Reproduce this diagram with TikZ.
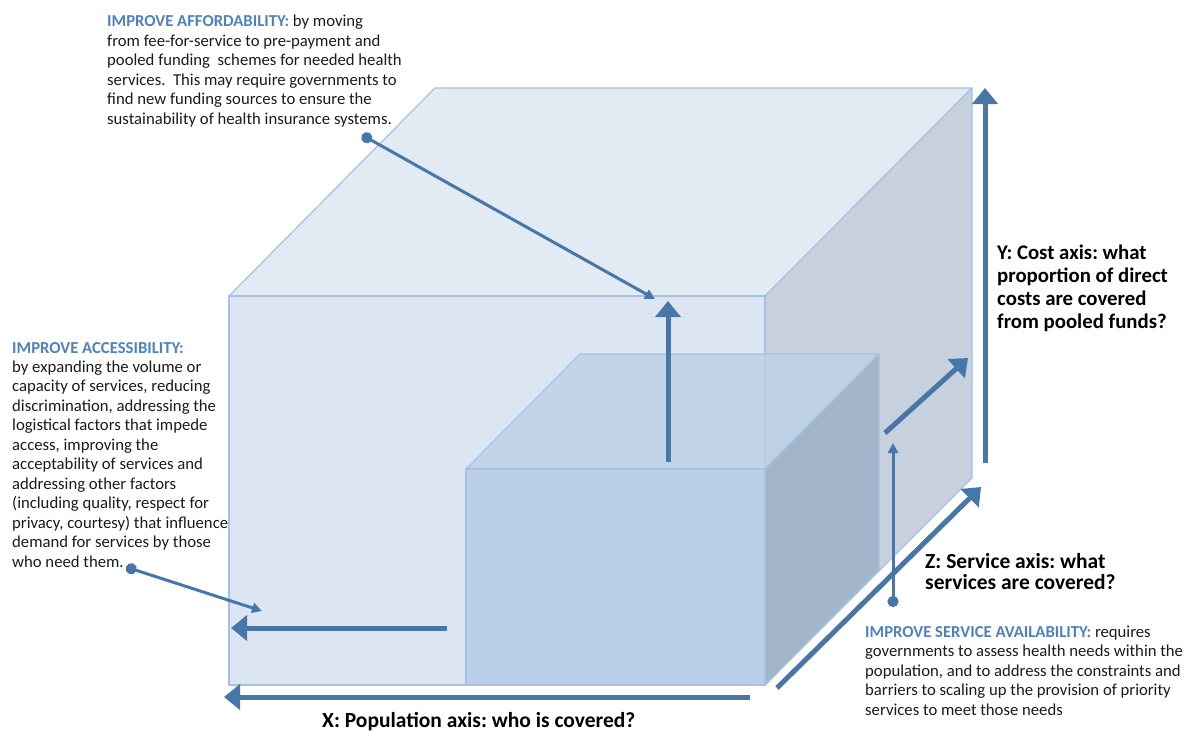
\documentclass[tikz,border=0pt]{standalone}
\usepackage{fontspec}
\setmainfont{Carlito}
\usepackage{tikz}
\usetikzlibrary{arrows.meta}
\frenchspacing
\definecolor{edgeblue}{HTML}{A6C1E2}
\definecolor{frontbig}{HTML}{DCE6F2}
\definecolor{topbig}{HTML}{E2EAF4}
\definecolor{rightbig}{HTML}{C6D1DD}
\definecolor{frontsmall}{HTML}{B3CBE6}
\definecolor{topsmall}{HTML}{BBD0E6}
\definecolor{rightsmall}{HTML}{99AEC6}
\definecolor{arrowblue}{HTML}{4776A8}
\definecolor{headblue}{HTML}{4F81BD}
\definecolor{textgray}{HTML}{1A1A1A}
\tikzset{
  note/.style={anchor=base west,align=left,inner sep=0pt,text=textgray,font=\fontsize{16.7}{19.45}\selectfont},
  axislabel/.style={anchor=base west,align=left,inner sep=0pt,text=black,font=\fontsize{21.5}{22.7}\selectfont\bfseries},
  axisarrow/.style={draw=arrowblue,line width=5pt,-{Triangle[length=16pt,width=25pt]}},
  pointer/.style={draw=arrowblue,line width=3pt,{Circle[length=11pt]}-{Triangle[length=10pt,width=10pt]}},
  face/.style={draw=edgeblue,line width=1.2pt,line join=round}
}
\newcommand{\headline}[1]{\textcolor{headblue}{\textbf{#1}}}
\begin{document}
\begin{tikzpicture}[x=1pt,y=-1pt]
\useasboundingbox (0,0) rectangle (1187,731);
% big cube
\draw [face,fill=topbig] (229,296) -- (435,88) -- (972,88) -- (765,296) -- cycle;
\draw [face,fill=rightbig] (765,296) -- (972,88) -- (972,478) -- (765,685) -- cycle;
\draw [face,fill=frontbig] (229,296) rectangle (765,685);
% small cube
\begin{scope}[fill opacity=0.8]
\draw [face,fill=topsmall] (466,469) -- (580,354) -- (879,354) -- (765,469) -- cycle;
\draw [face,fill=rightsmall] (765,469) -- (879,354) -- (879,570) -- (765,685) -- cycle;
\draw [face,fill=frontsmall] (466,469) rectangle (765,685);
\end{scope}
% axes
\coordinate (xTail) at (750,697);
\coordinate (xHead) at (224,697);
\coordinate (zTail) at (777,688);
\coordinate (zHead) at (981,487);
\coordinate (yTail) at (985,463);
\coordinate (yHead) at (985,88);
\draw [axisarrow] (xTail) -- (xHead);
\draw [axisarrow] (zTail) -- (zHead);
\draw [axisarrow] (yTail) -- (yHead);
% arrows inside the cube
\coordinate (popTail) at (447,628);
\coordinate (popHead) at (231,628);
\coordinate (costTail) at (668,462);
\coordinate (costHead) at (668,301);
\coordinate (servTail) at (885,433);
\coordinate (servHead) at (968,358);
\draw [axisarrow] (popTail) -- (popHead);
\draw [axisarrow] (costTail) -- (costHead);
\draw [axisarrow] (servTail) -- (servHead);
% notes (placed by the baseline of their last line)
\node [note] (afford) at (107,124) {\headline{IMPROVE AFFORDABILITY:} by moving\\
from fee-for-service to pre-payment and\\
pooled funding\ \ schemes for needed health\\
services.\ \ This may require governments to\\
find new funding sources to ensure the\\
sustainability of health insurance systems.};
\node [note] (access) at (12,567) {\headline{IMPROVE ACCESSIBILITY:}\\
by expanding the volume or\\
capacity of services, reducing\\
discrimination, addressing the\\
logistical factors that impede\\
access, improving the\\
acceptability of services and\\
addressing other factors\\
(including quality, respect for\\
privacy, courtesy) that influence\\
demand for services by those\\
who need them.};
\node [note] (avail) at (865,715) {\headline{IMPROVE SERVICE AVAILABILITY:} requires\\
governments to assess health needs within the\\
population, and to address the constraints and\\
barriers to scaling up the provision of priority\\
services to meet those needs};
\node [axislabel,font=\fontsize{20.8}{22.7}\selectfont\bfseries] (ylabel) at (997,328) {Y: Cost axis: what\\proportion of direct\\costs are covered\\from pooled funds?};
\node [axislabel,font=\fontsize{21.5}{20.5}\selectfont\bfseries] (zlabel) at (925,589) {Z: Service axis: what\\services are covered?};
\node [axislabel] (xlabel) at (322,727) {X: Population axis: who is covered?};
% pointers
\coordinate (affordDot) at (362,135);
\coordinate (affordTip) at (655,299);
\coordinate (accessDot) at (126,567);
\coordinate (accessTip) at (262,611);
\coordinate (availDot) at (893,607);
\coordinate (availTip) at (893,443);
\draw [pointer] (affordDot) -- (affordTip);
\draw [pointer] (accessDot) -- (accessTip);
\draw [pointer] (availDot) -- (availTip);
\end{tikzpicture}
\end{document}
